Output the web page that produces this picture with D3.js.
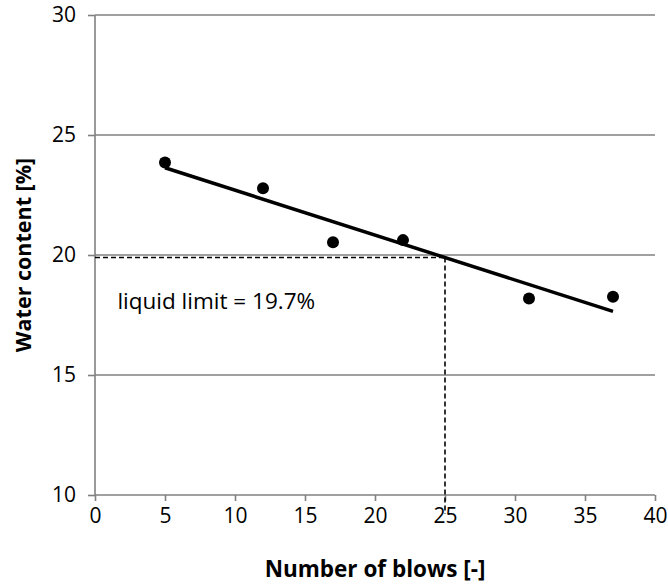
<!DOCTYPE html>
<html>
<head>
<meta charset="utf-8">
<script src="https://cdn.jsdelivr.net/npm/d3@7"></script>
<style>
  body { margin: 0; background: #fff; }
  svg { display: block; font-family: "Open Sans", sans-serif; }
</style>
</head>
<body>
<div id="chart"></div>
<script>
// data
var blows = [5, 12, 17, 22, 31, 37];
var water = [23.85, 22.78, 20.53, 20.62, 18.19, 18.26];
var xTicks = [0, 5, 10, 15, 20, 25, 30, 35, 40];
var yTicks = [10, 15, 20, 25, 30];
var limitBlows = 25;
var limitLabel = "liquid limit = 19.7%";

var margin = { top: 15, right: 13, bottom: 90, left: 95 };
var width = 668 - margin.left - margin.right;
var height = 585 - margin.top - margin.bottom;

var svg = d3.select("#chart").append("svg")
    .attr("width", 668)
    .attr("height", 585)
    .append("g")
    .attr("transform", "translate(" + margin.left + "," + margin.top + ")");

var x = d3.scaleLinear().domain([0, 40]).range([0, width]);
var y = d3.scaleLinear().domain([10, 30]).range([height, 0]);

// least squares trend line
var mx = d3.mean(blows), my = d3.mean(water);
var sxy = d3.sum(blows, (b, i) => (b - mx) * (water[i] - my));
var sxx = d3.sum(blows, b => (b - mx) * (b - mx));
var slope = sxy / sxx;
var icpt = my - slope * mx;
var trend = b => icpt + slope * b;

// gridlines
svg.selectAll(".grid")
    .data(yTicks.filter(t => t > 10))
    .enter().append("line")
    .attr("class", "grid")
    .attr("x1", 0).attr("x2", width)
    .attr("y1", d => y(d)).attr("y2", d => y(d))
    .attr("stroke", "#808080")
    .attr("stroke-width", 1.6);

// axes
var xAxis = svg.append("g")
    .attr("transform", "translate(0," + height + ")")
    .call(d3.axisBottom(x).tickValues(xTicks).tickSize(6).tickPadding(7));
var yAxis = svg.append("g")
    .call(d3.axisLeft(y).tickValues(yTicks).tickSize(7).tickPadding(12));

[xAxis, yAxis].forEach(function (g) {
    g.select(".domain").attr("stroke", "#808080").attr("stroke-width", 1.6);
    g.selectAll(".tick line").attr("stroke", "#808080").attr("stroke-width", 1.6);
    g.selectAll(".tick text")
        .attr("fill", "#000")
        .style("font-size", "21px")
        .style("font-family", "'Open Sans', sans-serif");
});
xAxis.select(".domain").attr("d", "M0,0H" + width);
yAxis.select(".domain").attr("d", "M0," + height + "V0");

// dashed guide lines at the liquid limit
var llY = trend(limitBlows);
svg.append("line")
    .attr("x1", x(0)).attr("x2", x(limitBlows))
    .attr("y1", y(llY)).attr("y2", y(llY))
    .attr("stroke", "#000").attr("stroke-width", 1.6)
    .attr("stroke-dasharray", "5,3");
svg.append("line")
    .attr("x1", x(limitBlows)).attr("x2", x(limitBlows))
    .attr("y1", y(llY)).attr("y2", y(10) + 19)
    .attr("stroke", "#000").attr("stroke-width", 1.6)
    .attr("stroke-dasharray", "5,3");

// trend line
var line = d3.line().x(d => x(d)).y(d => y(trend(d)));
svg.append("path")
    .datum([d3.min(blows), d3.max(blows)])
    .attr("fill", "none")
    .attr("stroke", "#000")
    .attr("stroke-width", 3.5)
    .attr("d", line);

// points
svg.selectAll(".dot")
    .data(blows)
    .enter().append("circle")
    .attr("class", "dot")
    .attr("r", 6)
    .attr("cx", d => x(d))
    .attr("cy", (d, i) => y(water[i]))
    .attr("fill", "#000");

// annotation
svg.append("text")
    .attr("x", x(1.6))
    .attr("y", y(17.75))
    .style("font-size", "22.5px")
    .text(limitLabel);

// axis titles
svg.append("text")
    .attr("x", width / 2)
    .attr("y", height + 82)
    .attr("text-anchor", "middle")
    .style("font-size", "22.5px")
    .style("font-weight", "bold")
    .text("Number of blows [-]");

svg.append("text")
    .attr("transform", "rotate(-90)")
    .attr("x", -height / 2)
    .attr("y", -64)
    .attr("text-anchor", "middle")
    .style("font-size", "21.5px")
    .style("font-weight", "bold")
    .text("Water content [%]");
</script>
</body>
</html>
